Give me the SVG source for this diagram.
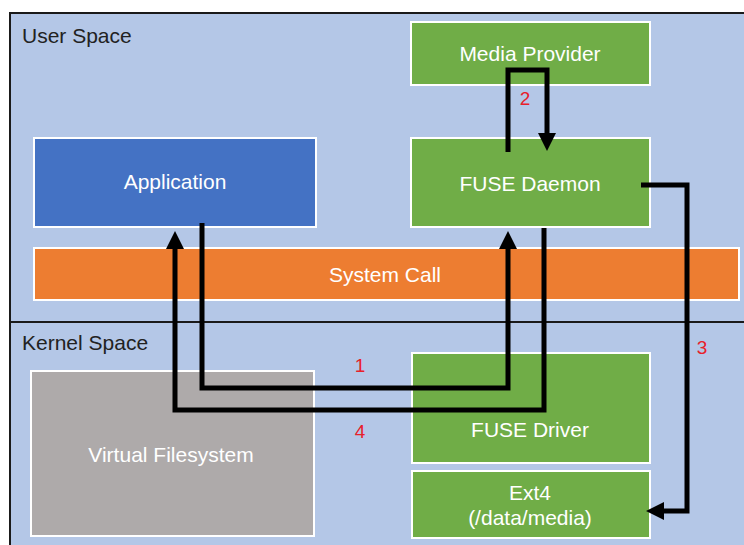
<svg xmlns="http://www.w3.org/2000/svg" width="744" height="545" viewBox="0 0 744 545">
  <defs>
    <style>
      .label { font-family: "Liberation Sans", Arial, sans-serif; font-size: 21px; fill: #ffffff; text-anchor: middle; }
      .space { font-family: "Liberation Sans", Arial, sans-serif; font-size: 21px; fill: #222222; }
      .step { font-family: "Liberation Sans", Arial, sans-serif; font-size: 19px; fill: #e8202a; text-anchor: middle; }
      .box { stroke: #ffffff; stroke-width: 2; }
      .wire { fill: none; stroke: #000000; stroke-width: 5; stroke-linejoin: miter; }
    </style>
    <marker id="head" markerUnits="userSpaceOnUse" markerWidth="18" markerHeight="18" viewBox="0 0 18 18" refX="1" refY="9" orient="auto">
      <path d="M0,0 L18,9 L0,18 Z" fill="#000000"/>
    </marker>
  </defs>

  <rect width="744" height="545" fill="#ffffff"/>

  <!-- frame with user / kernel split -->
  <g id="frame">
    <rect x="10" y="13" width="740" height="540" fill="#b4c7e7" stroke="#1a1a1a" stroke-width="2"/>
    <line x1="10" y1="322" x2="744" y2="322" stroke="#1a1a1a" stroke-width="2"/>
    <text class="space" x="22" y="43">User Space</text>
    <text class="space" x="22" y="350">Kernel Space</text>
  </g>

  <g id="system-call">
    <rect class="box" x="34" y="248" width="705" height="52" fill="#ed7d31"/>
    <text class="label" x="385" y="282">System Call</text>
  </g>

  <g id="application">
    <rect class="box" x="34" y="138" width="282" height="89" fill="#4472c4"/>
    <text class="label" x="175" y="189">Application</text>
  </g>

  <g id="media-provider">
    <rect class="box" x="411" y="22" width="239" height="63" fill="#70ad47"/>
    <text class="label" x="530" y="61">Media Provider</text>
  </g>

  <g id="fuse-daemon">
    <rect class="box" x="411" y="138" width="239" height="89" fill="#70ad47"/>
    <text class="label" x="530" y="191">FUSE Daemon</text>
  </g>

  <g id="virtual-filesystem">
    <rect class="box" x="31" y="371" width="283" height="165" fill="#aeaaaa"/>
    <text class="label" x="171" y="462">Virtual Filesystem</text>
  </g>

  <g id="fuse-driver">
    <rect class="box" x="412" y="353" width="238" height="110" fill="#70ad47"/>
    <text class="label" x="530" y="437">FUSE Driver</text>
  </g>

  <g id="ext4">
    <rect class="box" x="412" y="471" width="238" height="67" fill="#70ad47"/>
    <text class="label" x="530" y="500">Ext4</text>
    <text class="label" x="530" y="525">(/data/media)</text>
  </g>

  <!-- request / reply paths -->
  <g id="connectors">
    <path class="wire" d="M202,223 V388 H508 V248" marker-end="url(#head)"/>
    <path class="wire" d="M508,152 V70 H547 V134" marker-end="url(#head)"/>
    <path class="wire" d="M641,185 H687 V511 H663" marker-end="url(#head)"/>
    <path class="wire" d="M544,228 V410 H175 V248" marker-end="url(#head)"/>
    <text class="step" x="360" y="372">1</text>
    <text class="step" x="525" y="105">2</text>
    <text class="step" x="702" y="354">3</text>
    <text class="step" x="360" y="438">4</text>
  </g>
</svg>
